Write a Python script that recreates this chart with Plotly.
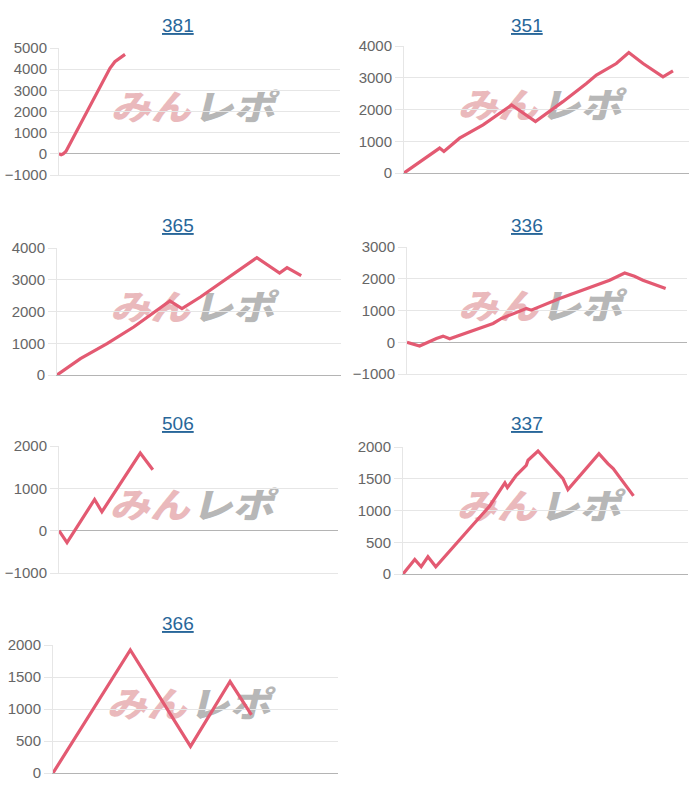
import base64
import plotly.graph_objects as go

# ---- data (x = games, y = difference in coins) ----
titles = ["381", "351", "365", "336", "506", "337", "366"]

x_381 = [0, 60, 120, 200, 1450, 1590, 1880]
y_381 = [0, -40, 0, 120, 4040, 4350, 4700]

x_351 = [0, 1000, 1120, 1560, 2220, 3020, 3690, 4460, 5120, 5400, 5960, 6310, 6710, 7270, 7550]
y_351 = [0, 784, 679, 1097, 1515, 2142, 1620, 2247, 2821, 3083, 3448, 3793, 3448, 3030, 3218]

x_365 = [0, 660, 1410, 2160, 3180, 3520, 4040, 4790, 5630, 6270, 6480, 6880]
y_365 = [0, 514, 987, 1512, 2331, 2089, 2457, 3034, 3696, 3213, 3381, 3129]

x_336 = [0, 360, 840, 1030, 1220, 2460, 2700, 3410, 3550, 4360, 5790, 6220, 6500, 6740, 7390]
y_336 = [0, -120, 120, 193, 110, 592, 749, 1063, 1011, 1377, 1953, 2183, 2079, 1953, 1691]

x_506 = [0, 230, 1020, 1230, 2330, 2690]
y_506 = [0, -282, 736, 446, 1832, 1441]

x_337 = [0, 330, 510, 700, 920, 1260, 1870, 2430, 2860, 2930, 3180, 3460, 3510, 3790,
         4490, 4630, 5060, 5290, 5500, 5750, 5900, 6470]
y_337 = [0, 230, 115, 272, 115, 335, 717, 1068, 1435, 1361, 1555, 1712, 1791, 1937,
         1503, 1330, 1607, 1764, 1895, 1738, 1660, 1230]

x_366 = [0, 2170, 3860, 4970, 5570]
y_366 = [0, 1922, 416, 1429, 909]

y_ranges = [(-1000, 5000), (0, 4000), (0, 4000), (-1000, 3000), (-1000, 2000), (0, 2000), (0, 2000)]
y_dticks = [1000, 1000, 1000, 1000, 1000, 500, 500]
x_max = 8000

series = [(x_381, y_381), (x_351, y_351), (x_365, y_365), (x_336, y_336),
          (x_506, y_506), (x_337, y_337), (x_366, y_366)]

# ---- layout geometry (pixels) ----
W, H = 700, 800
boxes = [  # left, right, top, bottom
    (59, 340, 48, 175),
    (404, 689, 46, 173),
    (57, 341, 248, 375),
    (407, 687, 247, 374),
    (59, 338, 446, 573),
    (403, 688, 447, 574),
    (53, 338, 645, 773),
]
title_pos = [(178, 25), (527, 25), (178, 225), (527, 225), (178, 423), (527, 423), (178, 623)]

LINE = "#e35a72"
GRID = "#e6e6e6"
ZERO = "#b4b4b4"
TICKF = dict(family="Liberation Sans, Arial, sans-serif", size=15, color="#666666")

# watermark logo as an svg image (drawn beneath the lines)
svg = (
    "<svg xmlns='http://www.w3.org/2000/svg' width='170' height='34' viewBox='0 0 170 34'>"
    "<g transform='skewX(-14) translate(7,0)' font-family='Noto Sans CJK JP' font-weight='900' font-size='35'>"
    "<text x='0' y='31' fill='#eab9bc' textLength='80' lengthAdjust='spacingAndGlyphs'>みん</text>"
    "<text x='82' y='31' fill='#b7b7b7' textLength='82' lengthAdjust='spacingAndGlyphs'>レポ</text>"
    "</g></svg>"
)
logo = "data:image/svg+xml;base64," + base64.b64encode(svg.encode("utf-8")).decode("ascii")

fig = go.Figure()
annotations = []
images = []
layout = dict(width=W, height=H, margin=dict(l=0, r=0, t=0, b=0, pad=0, autoexpand=False),
              paper_bgcolor="white", plot_bgcolor="rgba(0,0,0,0)", showlegend=False)

for i, ((xs, ys), (l, r, t, b)) in enumerate(zip(series, boxes)):
    n = "" if i == 0 else str(i + 1)
    xa, ya = "xaxis" + n, "yaxis" + n
    ymin, ymax = y_ranges[i]
    layout[xa] = dict(domain=[l / W, r / W], range=[0, x_max], anchor="y" + n,
                      showgrid=False, zeroline=False, showticklabels=False, ticks="",
                      showline=True, linecolor=(ZERO if ymin == 0 else GRID), linewidth=1,
                      fixedrange=True, automargin=False)
    layout[ya] = dict(domain=[1 - b / H, 1 - t / H], range=[ymin, ymax], anchor="x" + n,
                      dtick=y_dticks[i], tick0=0, showgrid=True, gridcolor=GRID, gridwidth=1,
                      zeroline=(ymin != 0), zerolinecolor=ZERO, zerolinewidth=1,
                      showline=True, linecolor=GRID, linewidth=1,
                      ticks="outside", ticklen=8, tickcolor=GRID, tickfont=TICKF,
                      fixedrange=True, automargin=False)
    fig.add_trace(go.Scatter(x=xs, y=ys, mode="lines", xaxis="x" + n, yaxis="y" + n,
                             line=dict(color=LINE, width=3.2), hoverinfo="skip"))
    tx, ty = title_pos[i]
    annotations.append(dict(x=tx / W, y=1 - ty / H, xref="paper", yref="paper",
                            text="<u>%s</u>" % titles[i], showarrow=False,
                            font=dict(family="Liberation Sans, Arial, sans-serif", size=19,
                                      color="#28679a"),
                            xanchor="center", yanchor="middle"))
    cx = (l + r) / 2 - 3
    cy = (t + b) / 2 - 6
    images.append(dict(source=logo, xref="paper", yref="paper", x=cx / W, y=1 - cy / H,
                       sizex=170 / W, sizey=34 / H, xanchor="center", yanchor="middle",
                       sizing="stretch", layer="below", opacity=1))

layout["annotations"] = annotations
layout["images"] = images
fig.update_layout(**layout)
fig.write_html("out.html")
